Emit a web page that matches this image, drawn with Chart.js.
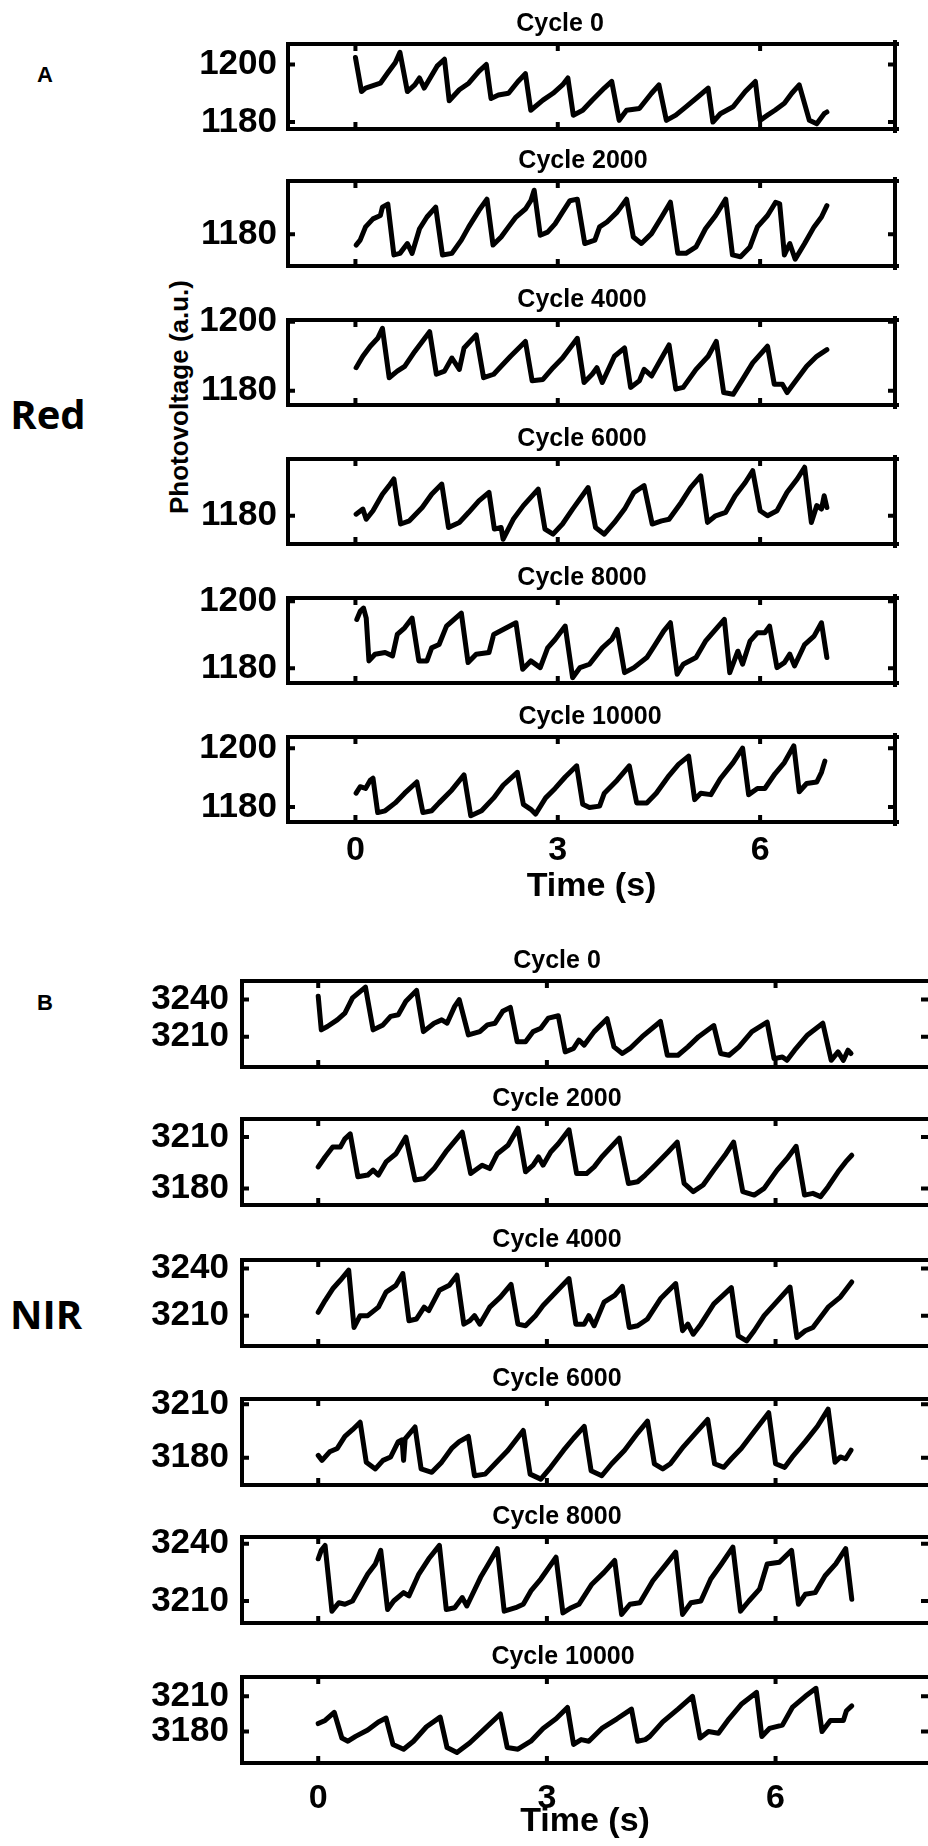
<!DOCTYPE html>
<html>
<head>
<meta charset="utf-8">
<script src="https://cdn.jsdelivr.net/npm/chart.js@4.4.1/dist/chart.umd.min.js"></script>
<style>
  html, body { margin: 0; padding: 0; background: #fff; overflow: hidden; }
  body { width: 928px; height: 1846px; position: relative; }
  canvas { position: absolute; }
  .lbl { position: absolute; transform: translate(-50%, -50%); font-weight: bold; color: #000;
         white-space: nowrap; line-height: 1; font-family: "Liberation Sans", Arial, sans-serif; }
  .side { font-family: "Open Sans", "Noto Sans", sans-serif; font-size: 40px; }
  .rot { transform: translate(-50%, -50%) rotate(-90deg); font-size: 26px; }
</style>
</head>
<body>
<div class="lbl" style="left:45px;top:75px;font-size:22px">A</div>
<div class="lbl" style="left:45px;top:1003px;font-size:22px">B</div>
<div class="lbl side" style="left:48px;top:414px">Red</div>
<div class="lbl side" style="left:46px;top:1314px">NIR</div>
<div class="lbl rot" style="left:179px;top:397px">Photovoltage (a.u.)</div>

<script>
// ---- photovoltage traces, [time (s), value] ----
const red0 = [[0,1202.4],[0.09,1190.6],[0.15,1191.8],[0.37,1193.5],[0.48,1197.1],[0.59,1200.6],[0.66,1204.2],
  [0.77,1190.6],[0.88,1192.9],[0.95,1195.3],[1.02,1191.8],[1.21,1199.4],[1.32,1201.8],
  [1.39,1187.4],[1.54,1191.2],[1.68,1193.5],[1.83,1197.6],[1.94,1200.0],
  [2.01,1188.2],[2.12,1189.4],[2.27,1190.0],[2.41,1194.1],[2.52,1196.8],
  [2.60,1184.1],[2.78,1187.6],[2.93,1190.0],[3.07,1192.9],[3.15,1195.3],
  [3.23,1182.4],[3.37,1184.1],[3.51,1187.6],[3.69,1191.8],[3.80,1194.1],
  [3.91,1180.6],[4.02,1184.1],[4.21,1184.7],[4.39,1190.0],[4.50,1192.9],
  [4.61,1180.6],[4.75,1182.4],[4.90,1185.3],[5.08,1188.8],[5.23,1191.8],
  [5.30,1180.0],[5.41,1182.9],[5.60,1185.3],[5.78,1190.6],[5.93,1194.1],
  [6.00,1180.6],[6.11,1182.4],[6.22,1184.1],[6.36,1186.5],[6.47,1190.0],[6.58,1192.9],
  [6.73,1180.6],[6.84,1179.4],[6.95,1182.9],[6.99,1183.5]];
const red2000 = [[0.01,1176.5],[0.07,1178.1],[0.15,1182.4],[0.26,1185.0],[0.37,1186.1],[0.40,1188.8],[0.48,1189.8],[0.57,1173.3],
  [0.66,1173.8],[0.77,1177.0],[0.84,1173.8],[0.95,1181.8],[1.06,1185.6],[1.19,1188.8],[1.29,1173.3],
  [1.43,1173.8],[1.57,1178.1],[1.68,1182.4],[1.83,1187.7],[1.95,1191.4],[2.04,1176.5],
  [2.16,1179.1],[2.27,1182.4],[2.38,1185.6],[2.52,1188.2],[2.60,1190.9],[2.65,1194.3],[2.74,1179.7],
  [2.85,1180.7],[2.96,1183.4],[3.07,1187.2],[3.18,1190.9],[3.29,1191.4],[3.40,1177.0],
  [3.55,1178.1],[3.62,1182.4],[3.73,1184.0],[3.88,1187.2],[4.02,1191.4],[4.12,1179.1],
  [4.24,1177.0],[4.39,1180.2],[4.54,1185.6],[4.67,1190.4],[4.78,1173.8],
  [4.90,1173.8],[5.05,1175.9],[5.19,1181.8],[5.34,1186.1],[5.49,1191.4],[5.59,1173.3],
  [5.71,1172.7],[5.85,1175.9],[5.96,1182.4],[6.11,1186.1],[6.23,1190.4],[6.29,1189.9],[6.36,1173.3],
  [6.44,1177.0],[6.52,1171.9],[6.66,1177.0],[6.80,1182.4],[6.91,1185.6],[6.99,1189.3]];
const red4000 = [[0.01,1186.7],[0.11,1190.0],[0.22,1192.9],[0.33,1195.2],[0.40,1198.1],[0.50,1183.8],
  [0.62,1185.7],[0.73,1187.1],[0.88,1191.4],[1.10,1197.1],[1.20,1184.8],
  [1.32,1185.7],[1.43,1189.5],[1.54,1186.2],[1.61,1192.4],[1.79,1196.2],[1.90,1183.8],
  [2.05,1184.8],[2.16,1187.1],[2.30,1190.0],[2.52,1194.3],[2.62,1182.9],
  [2.78,1183.3],[2.93,1186.7],[3.07,1189.5],[3.29,1195.2],[3.39,1182.4],
  [3.51,1184.8],[3.58,1186.7],[3.66,1182.4],[3.84,1190.0],[3.99,1192.4],[4.08,1181.0],
  [4.21,1182.9],[4.28,1186.2],[4.39,1184.3],[4.54,1189.5],[4.65,1193.3],[4.75,1180.5],
  [4.86,1181.0],[5.05,1186.2],[5.23,1190.0],[5.35,1194.3],[5.46,1179.5],
  [5.60,1179.0],[5.74,1183.3],[5.89,1188.1],[6.11,1192.9],[6.21,1181.9],
  [6.33,1181.9],[6.40,1179.5],[6.51,1182.4],[6.69,1187.1],[6.84,1190.0],[6.99,1191.9]];
const red6000 = [[0.01,1180.5],[0.11,1182.1],[0.16,1178.9],[0.26,1181.6],[0.40,1186.8],[0.50,1189.5],[0.57,1191.6],[0.67,1177.4],
  [0.80,1178.4],[0.99,1182.6],[1.13,1186.8],[1.28,1190.0],[1.38,1176.3],
  [1.54,1177.9],[1.68,1181.1],[1.83,1184.7],[1.98,1187.4],[2.06,1175.8],
  [2.16,1176.3],[2.19,1172.6],[2.34,1178.9],[2.49,1183.2],[2.71,1188.4],[2.81,1175.8],
  [2.93,1174.2],[3.07,1177.4],[3.22,1182.1],[3.45,1188.9],[3.56,1176.3],
  [3.69,1174.2],[3.84,1177.9],[3.99,1182.1],[4.13,1187.4],[4.28,1189.5],[4.40,1177.4],
  [4.54,1178.4],[4.65,1178.9],[4.83,1184.2],[4.97,1188.9],[5.12,1192.6],[5.22,1177.9],
  [5.34,1180.0],[5.49,1181.1],[5.63,1186.3],[5.78,1190.5],[5.89,1194.2],[6.00,1181.6],
  [6.11,1180.0],[6.25,1181.6],[6.40,1187.4],[6.55,1191.6],[6.66,1195.3],[6.76,1177.9],
  [6.84,1183.2],[6.91,1182.1],[6.95,1186.3],[6.99,1182.6]];
const red8000 = [[0.02,1194.6],[0.07,1197.0],[0.12,1198.0],[0.16,1195.0],[0.20,1182.2],
  [0.29,1184.2],[0.44,1184.7],[0.55,1183.7],[0.62,1190.1],[0.73,1192.1],[0.84,1195.0],[0.94,1182.2],
  [1.06,1182.2],[1.13,1186.1],[1.24,1187.1],[1.35,1192.6],[1.57,1196.5],[1.67,1181.7],
  [1.79,1184.2],[1.98,1184.7],[2.05,1190.1],[2.19,1191.6],[2.38,1193.6],[2.48,1179.7],
  [2.60,1182.2],[2.74,1180.2],[2.85,1186.1],[2.96,1188.6],[3.11,1192.6],[3.22,1177.2],
  [3.33,1180.2],[3.47,1181.2],[3.66,1186.1],[3.80,1188.6],[3.88,1191.6],[3.99,1178.7],
  [4.13,1180.2],[4.32,1183.2],[4.43,1186.6],[4.57,1191.1],[4.67,1193.6],[4.77,1178.2],
  [4.86,1181.2],[5.05,1183.2],[5.19,1188.1],[5.47,1194.6],[5.55,1178.7],
  [5.67,1185.1],[5.74,1181.2],[5.85,1188.1],[5.96,1190.6],[6.07,1190.6],[6.14,1192.6],[6.25,1180.2],
  [6.36,1181.7],[6.44,1184.2],[6.51,1180.7],[6.66,1187.1],[6.80,1189.6],[6.91,1193.6],[6.99,1183.2]];
const red10000 = [[0.01,1184.7],[0.07,1186.9],[0.15,1186.3],[0.22,1189.1],[0.26,1189.8],[0.33,1178.1],
  [0.44,1178.7],[0.59,1181.4],[0.73,1184.7],[0.91,1188.5],[1.00,1178.1],
  [1.13,1178.7],[1.24,1181.4],[1.43,1185.8],[1.61,1190.9],[1.71,1177.0],
  [1.87,1178.7],[2.05,1183.1],[2.19,1187.4],[2.40,1191.8],[2.49,1180.9],
  [2.60,1179.2],[2.67,1177.6],[2.82,1183.1],[2.96,1186.3],[3.11,1190.2],[3.28,1194.0],[3.37,1180.9],
  [3.47,1179.8],[3.62,1180.3],[3.69,1184.7],[3.88,1189.1],[4.06,1194.0],[4.17,1181.4],
  [4.32,1181.4],[4.46,1184.7],[4.65,1190.7],[4.79,1194.5],[4.94,1197.3],[5.03,1182.5],
  [5.12,1184.7],[5.27,1184.2],[5.41,1189.6],[5.60,1195.1],[5.74,1200.0],[5.83,1184.2],
  [5.96,1186.3],[6.07,1186.3],[6.22,1191.3],[6.36,1195.1],[6.50,1200.8],[6.58,1185.2],
  [6.69,1188.0],[6.84,1188.5],[6.91,1191.8],[6.96,1195.6]];

const nir0 = [[0.00,3242.7],[0.04,3215.5],
  [0.12,3218.2],[0.25,3223.6],[0.35,3229.1],[0.45,3241.4],[0.62,3250.1],[0.72,3215.5],
  [0.85,3219.5],[0.95,3226.4],[1.05,3227.7],[1.15,3238.6],[1.29,3247.4],[1.38,3214.1],
  [1.52,3220.9],[1.62,3223.6],[1.69,3220.9],[1.79,3234.5],[1.85,3240.0],[1.97,3211.4],
  [2.12,3214.1],[2.22,3219.5],[2.32,3220.9],[2.42,3230.5],[2.52,3233.7],[2.61,3205.9],
  [2.72,3205.9],[2.82,3214.1],[2.92,3216.8],[3.02,3225.0],[3.15,3226.9],[3.24,3197.7],
  [3.35,3200.5],[3.42,3207.3],[3.49,3203.2],[3.62,3214.1],[3.79,3224.5],[3.88,3201.8],
  [3.99,3196.4],[4.09,3200.5],[4.25,3210.0],[4.49,3222.3],[4.58,3195.0],
  [4.72,3195.0],[4.85,3201.8],[4.99,3210.0],[5.19,3219.0],[5.28,3196.4],
  [5.39,3195.0],[5.52,3201.8],[5.69,3214.1],[5.89,3221.7],[5.98,3192.3],
  [6.09,3193.6],[6.15,3190.9],[6.25,3199.1],[6.42,3211.4],[6.62,3220.9],[6.73,3190.9],
  [6.82,3197.7],[6.89,3190.9],[6.95,3199.1],[6.99,3196.4]];
const nir2000 = [[0.00,3192.6],[0.09,3198.4],[0.19,3204.2],[0.29,3204.2],[0.35,3209.0],[0.42,3211.9],[0.52,3186.8],
  [0.65,3187.8],[0.72,3190.7],[0.79,3187.8],[0.89,3195.5],[1.02,3200.3],[1.15,3210.0],[1.27,3184.9],
  [1.39,3185.8],[1.52,3191.6],[1.69,3202.3],[1.89,3212.9],[2.00,3188.7],
  [2.15,3193.6],[2.25,3191.6],[2.35,3200.3],[2.49,3205.2],[2.62,3215.2],[2.72,3189.7],
  [2.82,3193.6],[2.89,3198.4],[2.95,3193.6],[3.05,3201.3],[3.15,3206.1],[3.29,3214.3],[3.39,3188.7],
  [3.52,3188.7],[3.62,3192.6],[3.72,3198.4],[3.95,3209.4],[4.07,3182.9],
  [4.19,3183.9],[4.29,3187.8],[4.42,3193.6],[4.59,3201.3],[4.71,3207.1],[4.80,3182.9],
  [4.92,3178.1],[5.05,3182.0],[5.19,3190.7],[5.35,3200.3],[5.45,3207.1],[5.57,3178.1],
  [5.72,3176.1],[5.85,3180.0],[6.02,3190.7],[6.15,3197.4],[6.27,3204.6],[6.38,3176.1],
  [6.49,3177.1],[6.59,3175.2],[6.69,3181.0],[6.82,3189.7],[6.92,3195.5],[7.00,3199.4]];
const nir4000 = [[0.00,3212.1],[0.09,3219.6],[0.19,3227.1],[0.29,3232.5],[0.40,3238.9],[0.47,3202.5],
  [0.55,3210.0],[0.65,3210.0],[0.79,3215.4],[0.89,3225.0],[1.02,3229.3],[1.11,3236.8],[1.19,3206.8],
  [1.29,3207.9],[1.39,3215.4],[1.45,3213.2],[1.59,3226.1],[1.72,3229.3],[1.82,3235.7],[1.91,3204.6],
  [1.99,3206.8],[2.05,3210.0],[2.12,3204.6],[2.25,3215.4],[2.39,3221.8],[2.53,3229.9],[2.62,3204.6],
  [2.72,3203.6],[2.85,3210.0],[2.95,3216.4],[3.12,3225.0],[3.29,3233.6],[3.38,3204.6],
  [3.49,3204.6],[3.55,3210.0],[3.62,3203.6],[3.75,3218.6],[3.89,3222.9],[3.99,3228.6],[4.08,3202.5],
  [4.19,3203.6],[4.32,3207.9],[4.49,3220.7],[4.69,3230.4],[4.78,3200.4],
  [4.85,3204.6],[4.92,3198.2],[5.02,3204.6],[5.19,3217.5],[5.42,3227.8],[5.51,3197.1],
  [5.62,3193.9],[5.72,3200.4],[5.85,3210.0],[5.99,3217.5],[6.19,3228.2],[6.28,3196.1],
  [6.39,3200.4],[6.49,3202.5],[6.69,3215.4],[6.85,3221.8],[7.00,3231.4]];
const nir6000 = [[0.00,3181.3],[0.05,3178.5],[0.15,3183.3],[0.25,3185.2],[0.35,3191.9],[0.45,3195.7],[0.55,3199.9],[0.63,3177.5],
  [0.75,3173.7],[0.85,3178.5],[0.95,3180.4],[1.05,3189.0],[1.10,3190.0],[1.12,3178.5],[1.14,3190.5],[1.27,3197.2],[1.35,3173.7],
  [1.49,3171.8],[1.62,3177.5],[1.75,3185.2],[1.85,3189.0],[1.97,3191.9],[2.05,3169.9],
  [2.19,3170.8],[2.32,3176.6],[2.49,3184.2],[2.69,3195.3],[2.78,3170.8],
  [2.92,3168.0],[3.05,3174.6],[3.22,3184.2],[3.35,3190.9],[3.49,3197.6],[3.58,3172.7],
  [3.72,3169.9],[3.85,3176.6],[4.02,3184.2],[4.19,3193.8],[4.32,3200.5],[4.41,3176.6],
  [4.52,3173.7],[4.62,3176.6],[4.79,3186.1],[4.95,3193.8],[5.11,3201.4],[5.20,3176.6],
  [5.32,3174.6],[5.42,3179.4],[5.55,3185.2],[5.72,3194.7],[5.91,3205.2],[6.00,3176.6],
  [6.12,3174.6],[6.22,3180.4],[6.39,3189.0],[6.55,3197.6],[6.69,3207.2],[6.78,3177.5],
  [6.85,3180.4],[6.92,3179.4],[6.99,3184.2]];
const nir8000 = [[0.00,3232.1],[0.04,3236.5],[0.09,3239.1],[0.18,3204.7],
  [0.27,3209.1],[0.35,3208.3],[0.45,3210.0],[0.55,3217.1],[0.65,3224.1],[0.75,3229.4],[0.82,3236.5],[0.91,3205.6],
  [0.99,3210.0],[1.12,3214.4],[1.19,3212.7],[1.32,3224.1],[1.45,3232.1],[1.59,3239.1],[1.68,3205.6],
  [1.79,3206.5],[1.89,3211.8],[1.95,3207.4],[2.13,3222.4],[2.22,3228.5],[2.35,3237.4],[2.44,3204.7],
  [2.59,3206.5],[2.69,3208.3],[2.79,3215.3],[2.92,3221.5],[3.12,3232.9],[3.21,3203.8],
  [3.32,3206.5],[3.42,3208.3],[3.59,3218.8],[3.75,3225.0],[3.89,3231.2],[3.98,3203.0],
  [4.09,3208.3],[4.22,3209.1],[4.39,3220.6],[4.55,3228.5],[4.69,3235.6],[4.78,3203.0],
  [4.89,3209.1],[5.02,3210.0],[5.15,3221.5],[5.29,3229.4],[5.44,3238.2],[5.54,3204.7],
  [5.65,3210.0],[5.79,3216.2],[5.89,3229.4],[6.05,3230.3],[6.21,3236.5],[6.30,3208.3],
  [6.39,3213.5],[6.52,3214.4],[6.65,3223.2],[6.79,3229.4],[6.92,3237.4],[7.00,3210.9]];
const nir10000 = [[0.00,3186.8],[0.09,3189.5],[0.21,3196.4],[0.31,3174.5],
  [0.39,3171.8],[0.49,3175.9],[0.65,3181.4],[0.79,3188.2],[0.89,3191.5],[0.98,3169.1],
  [1.12,3165.0],[1.25,3171.8],[1.42,3184.1],[1.60,3192.3],[1.69,3166.4],
  [1.82,3162.3],[1.99,3170.5],[2.19,3182.7],[2.39,3195.0],[2.48,3166.4],
  [2.62,3165.0],[2.79,3171.8],[2.95,3182.7],[3.12,3190.9],[3.27,3200.5],[3.35,3169.1],
  [3.45,3173.2],[3.55,3171.8],[3.72,3182.7],[3.92,3190.9],[4.11,3199.1],[4.19,3171.8],
  [4.29,3173.2],[4.35,3175.9],[4.52,3188.2],[4.72,3199.1],[4.91,3210.0],[5.01,3174.5],
  [5.12,3180.0],[5.25,3178.6],[5.39,3190.9],[5.55,3203.2],[5.75,3213.3],[5.82,3175.9],
  [5.92,3182.7],[6.09,3185.5],[6.22,3200.5],[6.39,3210.0],[6.53,3216.8],[6.61,3180.0],
  [6.72,3189.5],[6.89,3189.5],[6.93,3197.7],[7.00,3201.8]];

// ---- axes ----
const cycleLabels = ['Cycle 0', 'Cycle 2000', 'Cycle 4000', 'Cycle 6000', 'Cycle 8000', 'Cycle 10000'];
const timeTicks = [0, 3, 6];
const timeRange = [-1, 8];
const redLimits = [[1177.6, 1207.1], [1169.7, 1197.3], [1175.9, 1200.5], [1171.1, 1197.9], [1175.6, 1201.0], [1174.9, 1203.8]];
const redTicks = [[1180, 1200], [1180], [1180, 1200], [1180], [1180, 1200], [1180, 1200]];
const nirLimits = [[3185.5, 3255.0], [3170.3, 3220.6], [3190.7, 3245.4], [3164.7, 3212.9], [3198.5, 3243.5], [3153.3, 3226.4]];
const nirTicks = [[3210, 3240], [3180, 3210], [3210, 3240], [3180, 3210], [3210, 3240], [3180, 3210]];

const redSeries = [red0, red2000, red4000, red6000, red8000, red10000];
const nirSeries = [nir0, nir2000, nir4000, nir6000, nir8000, nir10000];

// page layout of the two stacks of axes (px); the NIR stack runs off the right edge
const groups = [
  { series: redSeries, limits: redLimits, ticks: redTicks, boxLeft: 288, boxRight: 895, boxH: 85,
    tops: [44, 181, 320, 459, 598, 737], titleX: [560, 583, 582, 582, 582, 590],
    xTickPad: 0, xAxisH: 89, yTickPad: 3, padR: 8, openRight: false },
  { series: nirSeries, limits: nirLimits, ticks: nirTicks, boxLeft: 242, boxRight: 928, boxH: 86,
    tops: [981, 1119, 1260, 1399, 1537, 1677], titleX: [557, 557, 557, 557, 557, 563],
    xTickPad: 7, xAxisH: 83, yTickPad: 5, padR: 0, openRight: true }
];

const LABEL_W = 110, PAD_TOP = 40, PAD_B = 36;
const TICK_LEN = 7;
const FONT = 'Liberation Sans, Arial, sans-serif';

// MATLAB-style box: frame, inward ticks on all sides, title above
const boxFrame = {
  id: 'boxFrame',
  afterDatasetsDraw(chart, args, opts) {
    const { ctx, chartArea: a, scales: { x, y } } = chart;
    ctx.save();
    ctx.strokeStyle = '#000';
    ctx.lineWidth = 4;
    ctx.beginPath();
    x.ticks.forEach(t => {
      const px = x.getPixelForValue(t.value);
      ctx.moveTo(px, a.top); ctx.lineTo(px, a.top + TICK_LEN);
      ctx.moveTo(px, a.bottom); ctx.lineTo(px, a.bottom - TICK_LEN);
    });
    y.ticks.forEach(t => {
      const py = y.getPixelForValue(t.value);
      ctx.moveTo(a.left, py); ctx.lineTo(a.left + TICK_LEN, py);
      ctx.moveTo(a.right, py); ctx.lineTo(a.right - TICK_LEN, py);
    });
    ctx.stroke();

    ctx.beginPath();
    ctx.moveTo(a.right + 2, a.top);
    ctx.lineTo(a.left, a.top);
    ctx.lineTo(a.left, a.bottom);
    ctx.lineTo(a.right + 2, a.bottom);
    if (!opts.openRight) {
      ctx.moveTo(a.right, a.top - 2);
      ctx.lineTo(a.right, a.bottom + 2);
    }
    ctx.lineCap = 'square';
    ctx.stroke();

    ctx.fillStyle = '#000';
    ctx.font = 'bold 25px ' + FONT;
    ctx.textAlign = 'center';
    ctx.textBaseline = 'alphabetic';
    ctx.fillText(opts.text, opts.cx, a.top - 13);
    ctx.restore();
  }
};

function drawPanel(g, i) {
  const last = i === g.series.length - 1;
  const boxW = g.boxRight - g.boxLeft;
  const xAxisH = last ? g.xAxisH : 0;
  const w = LABEL_W + boxW + g.padR;
  const h = PAD_TOP + g.boxH + xAxisH + PAD_B;
  const left = g.boxLeft - LABEL_W;

  const canvas = document.createElement('canvas');
  canvas.width = w; canvas.height = h;
  canvas.style.left = left + 'px';
  canvas.style.top = (g.tops[i] - PAD_TOP) + 'px';
  canvas.style.width = w + 'px';
  canvas.style.height = h + 'px';
  document.body.appendChild(canvas);

  const yTicks = g.ticks[i];
  new Chart(canvas, {
    type: 'line',
    data: {
      datasets: [{
        data: g.series[i].map(([t, v]) => ({ x: t, y: v })),
        borderColor: '#000',
        borderWidth: 5,
        borderJoinStyle: 'round',
        borderCapStyle: 'round',
        pointRadius: 0,
        tension: 0,
        fill: false
      }]
    },
    options: {
      responsive: false,
      animation: false,
      events: [],
      layout: { padding: { top: PAD_TOP, right: g.padR, bottom: PAD_B, left: 0 } },
      plugins: {
        legend: { display: false },
        tooltip: { enabled: false },
        boxFrame: { text: cycleLabels[i], cx: g.titleX[i] - left, openRight: g.openRight }
      },
      scales: {
        x: {
          type: 'linear',
          min: timeRange[0],
          max: timeRange[1],
          afterBuildTicks: axis => { axis.ticks = timeTicks.map(v => ({ value: v })); },
          afterFit: axis => { axis.height = xAxisH; },
          grid: { display: false },
          border: { display: false },
          ticks: {
            display: last,
            color: '#000',
            padding: g.xTickPad,
            maxRotation: 0,
            callback: v => String(v),
            font: { family: FONT, size: 34, weight: 'bold' }
          },
          title: {
            display: last,
            text: 'Time (s)',
            color: '#000',
            padding: { top: 0, bottom: 4 },
            font: { family: FONT, size: 34, weight: 'bold' }
          }
        },
        y: {
          min: g.limits[i][0],
          max: g.limits[i][1],
          afterBuildTicks: axis => { axis.ticks = yTicks.map(v => ({ value: v })); },
          afterFit: axis => { axis.width = LABEL_W; },
          grid: { display: false },
          border: { display: false },
          ticks: {
            color: '#000',
            padding: g.yTickPad,
            callback: v => String(v),
            font: { family: FONT, size: 35, weight: 'bold' }
          }
        }
      }
    },
    plugins: [boxFrame]
  });
}

groups.forEach(g => g.series.forEach((s, i) => drawPanel(g, i)));
</script>
</body>
</html>
